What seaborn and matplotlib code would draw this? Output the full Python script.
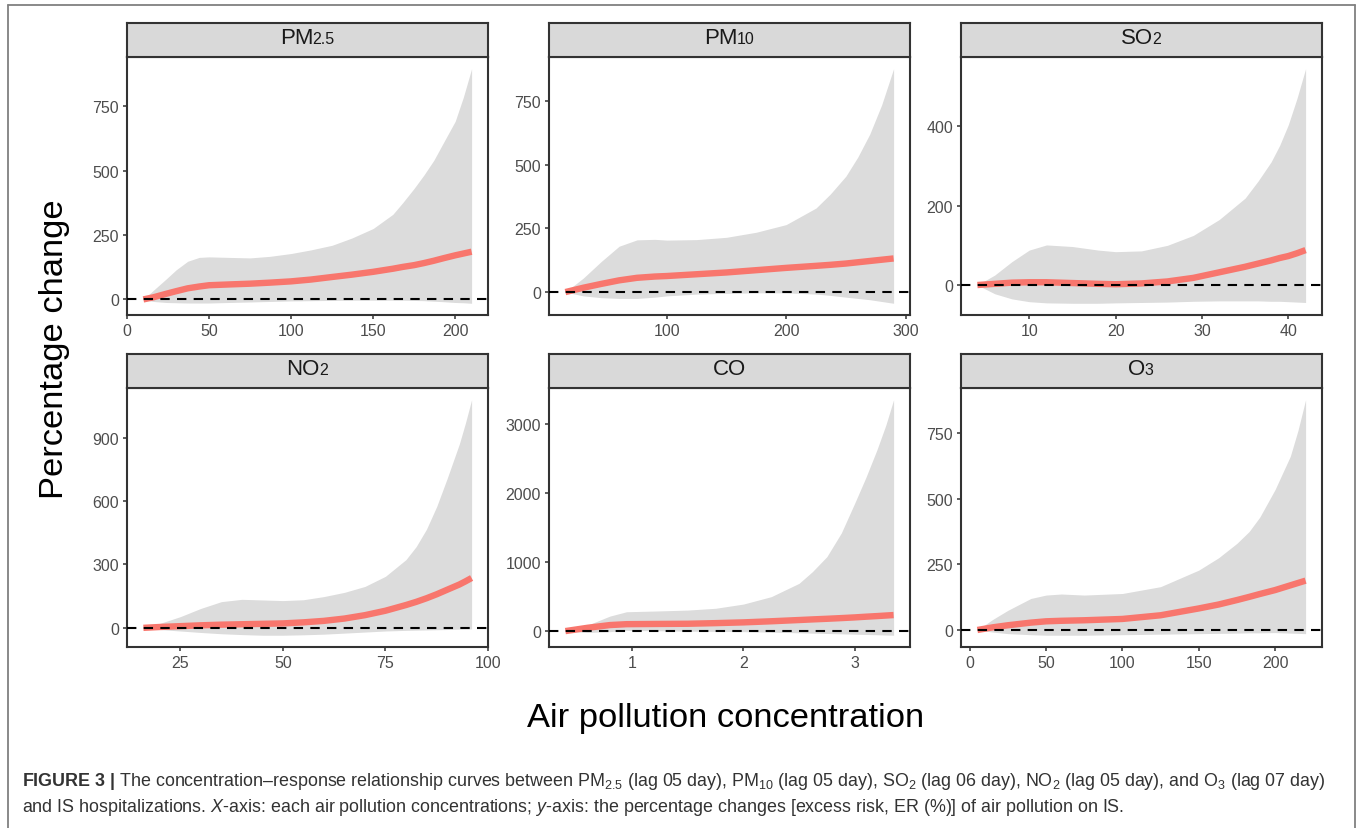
import numpy as np
import matplotlib
matplotlib.use("Agg")
import matplotlib.pyplot as plt
import seaborn as sns
from matplotlib.lines import Line2D

# ---------------- data ----------------
pm25_x   = [10, 16, 24, 30, 37, 44, 50, 62, 75, 87, 100, 112, 125, 137, 150, 162, 168, 175, 181, 187, 193, 200, 205, 210]
pm25_fit = [0, 8, 22, 32, 43, 50, 55, 58, 61, 65, 70, 77, 87, 96, 107, 119, 126, 133, 141, 150, 160, 171, 178, 185]
pm25_lo  = [0, -8, -12, -13, -14, -14, -14, -12, -10, -8, -6, -5, -4, -3, -3, -3, -3, -4, -5, -7, -9, -12, -13, -15]
pm25_hi  = [0, 35, 80, 115, 148, 163, 165, 163, 161, 167, 178, 192, 210, 238, 275, 330, 375, 431, 483, 540, 610, 691, 785, 895]

pm10_x   = [15, 30, 45, 60, 75, 90, 100, 125, 150, 175, 200, 225, 237, 250, 260, 270, 280, 290]
pm10_fit = [0, 17, 32, 46, 56, 61, 63, 70, 77, 86, 95, 103, 107, 112, 117, 122, 127, 132]
pm10_lo  = [0, -15, -22, -25, -25, -20, -15, -8, -5, -3, -3, -8, -13, -20, -25, -30, -37, -44]
pm10_hi  = [0, 55, 120, 180, 205, 207, 204, 206, 215, 235, 265, 330, 385, 455, 530, 620, 735, 877]

so2_x   = [4, 6, 8, 10, 12, 15, 18, 20, 23, 26, 29, 32, 35, 36.5, 38, 39, 40, 41, 42]
so2_fit = [0, 3, 6, 7, 7, 5, 3, 2, 4, 9, 18, 32, 46, 54, 62, 68, 73, 80, 88]
so2_lo  = [0, -22, -35, -42, -45, -46, -46, -45, -44, -43, -41, -40, -40, -40, -41, -41, -42, -43, -44]
so2_hi  = [0, 25, 59, 88, 101, 97, 88, 84, 86, 100, 125, 165, 219, 262, 310, 352, 404, 470, 545]

no2_x   = [16, 20, 25, 30, 35, 40, 45, 50, 55, 60, 65, 70, 75, 80, 82.5, 85, 87.5, 90, 93, 94.5, 96]
no2_fit = [0, 4, 8, 12, 15, 17, 19, 21, 26, 33, 44, 60, 81, 108, 123, 140, 159, 180, 205, 220, 236]
no2_lo  = [0, -8, -15, -22, -28, -32, -35, -35, -33, -30, -25, -20, -15, -12, -11, -10, -9, -8, -6, -5, -5]
no2_hi  = [0, 21, 53, 92, 124, 135, 132, 129, 133, 148, 168, 196, 244, 323, 385, 467, 575, 705, 870, 970, 1080]

co_x   = [0.4, 0.6, 0.8, 0.95, 1.2, 1.5, 1.75, 2.0, 2.25, 2.5, 2.62, 2.75, 2.88, 3.0, 3.1, 3.2, 3.28, 3.35]
co_fit = [0, 48, 87, 100, 103, 106, 115, 126, 142, 160, 169, 178, 188, 198, 208, 217, 225, 232]
co_lo  = [0, -20, -8, 10, 5, -2, -5, -8, -15, -25, -30, -35, -40, -45, -49, -53, -57, -60]
co_hi  = [0, 87, 217, 280, 290, 304, 330, 391, 498, 691, 860, 1077, 1420, 1850, 2220, 2623, 2980, 3348]

o3_x   = [5, 15, 25, 40, 50, 60, 75, 100, 125, 150, 163, 175, 183, 190, 200, 210, 215, 220]
o3_fit = [0, 10, 18, 28, 33, 35, 37, 42, 56, 82, 97, 114, 126, 137, 152, 170, 179, 188]
o3_lo  = [0, -8, -14, -18, -20, -20, -20, -18, -16, -14, -13, -12, -11, -11, -10, -12, -13, -14]
o3_hi  = [0, 40, 75, 120, 133, 137, 133, 139, 165, 228, 275, 330, 375, 430, 535, 662, 760, 877]

panel_base = ["PM", "PM", "SO", "NO", "CO", "O"]
panel_sub  = ["2.5", "10", "2", "2", "", "3"]
xticks = [[0, 50, 100, 150, 200], [100, 200, 300], [10, 20, 30, 40],
          [25, 50, 75, 100], [1, 2, 3], [0, 50, 100, 150, 200]]
yticks = [[0, 250, 500, 750], [0, 250, 500, 750], [0, 200, 400],
          [0, 300, 600, 900], [0, 1000, 2000, 3000], [0, 250, 500, 750]]

ylabel = "Percentage change"
xlabel = "Air pollution concentration"
caption1 = (r"$\mathbf{FIGURE\ 3\ |}$ The concentration–response relationship curves between "
            r"PM$_{2.5}$ (lag 05 day), PM$_{10}$ (lag 05 day), SO$_{2}$ (lag 06 day), "
            r"NO$_{2}$ (lag 05 day), and O$_{3}$ (lag 07 day)")
caption2 = (r"and IS hospitalizations. $\mathit{X}$-axis: each air pollution concentrations; "
            r"$\mathit{y}$-axis: the percentage changes [excess risk, ER (%)] of air pollution on IS.")

series = [(pm25_x, pm25_fit, pm25_lo, pm25_hi), (pm10_x, pm10_fit, pm10_lo, pm10_hi),
          (so2_x, so2_fit, so2_lo, so2_hi), (no2_x, no2_fit, no2_lo, no2_hi),
          (co_x, co_fit, co_lo, co_hi), (o3_x, o3_fit, o3_lo, o3_hi)]

# ---------------- style ----------------
sns.set_theme(style="ticks")
plt.rcParams['font.family'] = ['Liberation Sans', 'DejaVu Sans']
plt.rcParams['mathtext.fontset'] = 'custom'
plt.rcParams['mathtext.rm'] = 'Liberation Sans'
plt.rcParams['mathtext.it'] = 'Liberation Sans:italic'
plt.rcParams['mathtext.bf'] = 'Liberation Sans:bold'

W, H = 1358, 829
fig = plt.figure(figsize=(W / 100, H / 100), dpi=100)
fig.patch.set_facecolor('white')
renderer = fig.canvas.get_renderer()

col_left = [127, 549, 961]
pw = 361
axes_top = [58, 389]
axes_bot = [316, 648]
strip_h = 34
edge = '#333333'

for i, (x, fit, lo, hi) in enumerate(series):
    r, c = divmod(i, 3)
    x = np.asarray(x, float); fit = np.asarray(fit, float)
    lo = np.asarray(lo, float); hi = np.asarray(hi, float)
    l = col_left[c] / W
    b = 1 - axes_bot[r] / H
    h = (axes_bot[r] - axes_top[r]) / H
    ax = fig.add_axes([l, b, pw / W, h])
    ax.set_facecolor('white')
    ax.fill_between(x, lo, hi, color='#DCDCDC', lw=0, zorder=1)
    sns.lineplot(x=x, y=fit, ax=ax, color='#F8766D', lw=4.6, zorder=3,
                 solid_capstyle='butt')
    ax.axhline(0, color='black', lw=1.5, dashes=(4.5, 3.5), zorder=4)
    x0, x1 = x.min(), x.max()
    y0, y1 = min(lo.min(), fit.min()), max(hi.max(), fit.max())
    ax.set_xlim(x0 - 0.05 * (x1 - x0), x1 + 0.05 * (x1 - x0))
    ax.set_ylim(y0 - 0.05 * (y1 - y0), y1 + 0.05 * (y1 - y0))
    ax.set_xticks(xticks[i])
    ax.set_yticks(yticks[i])
    ax.set_xlabel("")
    ax.set_ylabel("")
    ax.tick_params(axis='both', length=3.2, width=1.1, color=edge,
                   labelcolor='#4D4D4D', labelsize=11.5, pad=2.5)
    for s in ax.spines.values():
        s.set_visible(True)
        s.set_color(edge)
        s.set_linewidth(1.5)
    ax.grid(False)

    # strip
    sax = fig.add_axes([l, 1 - axes_top[r] / H, pw / W, strip_h / H])
    sax.set_facecolor('#D9D9D9')
    sax.set_xticks([]); sax.set_yticks([])
    for s in sax.spines.values():
        s.set_visible(True)
        s.set_color(edge)
        s.set_linewidth(1.5)
    t1 = sax.text(0, 0.40, panel_base[i], size=16, color='#1A1A1A',
                  ha='left', va='baseline', transform=sax.transAxes)
    t2 = sax.text(0, 0.40, panel_sub[i], size=11.5, color='#1A1A1A',
                  ha='left', va='baseline', transform=sax.transAxes)
    w1 = t1.get_window_extent(renderer).width
    w2 = t2.get_window_extent(renderer).width if panel_sub[i] else 0
    start = pw / 2 - (w1 + w2) / 2
    t1.set_x(start / pw)
    t2.set_x((start + w1 - 1.0) / pw)

# axis titles
fig.text(54 / W, 1 - 349 / H, ylabel, rotation=90, ha='center', va='center',
         size=24.8, color='black')
fig.text(726 / W, 1 - 718 / H, xlabel, ha='center', va='center',
         size=24.8, color='black')

# caption
fig.text(22 / W, 1 - 786 / H, caption1, ha='left', va='baseline', size=12.9, color='#333333')
fig.text(22 / W, 1 - 812 / H, caption2, ha='left', va='baseline', size=12.9, color='#333333')

# outer frame
fc = '#808080'
fig.add_artist(Line2D([8 / W, 8 / W], [0, 1 - 6 / H], transform=fig.transFigure, color=fc, lw=1.3))
fig.add_artist(Line2D([1355 / W, 1355 / W], [0, 1 - 6 / H], transform=fig.transFigure, color=fc, lw=1.3))
fig.add_artist(Line2D([8 / W, 1355 / W], [1 - 6 / H, 1 - 6 / H], transform=fig.transFigure, color=fc, lw=1.3))

fig.savefig("out.png", dpi=100, facecolor='white')
